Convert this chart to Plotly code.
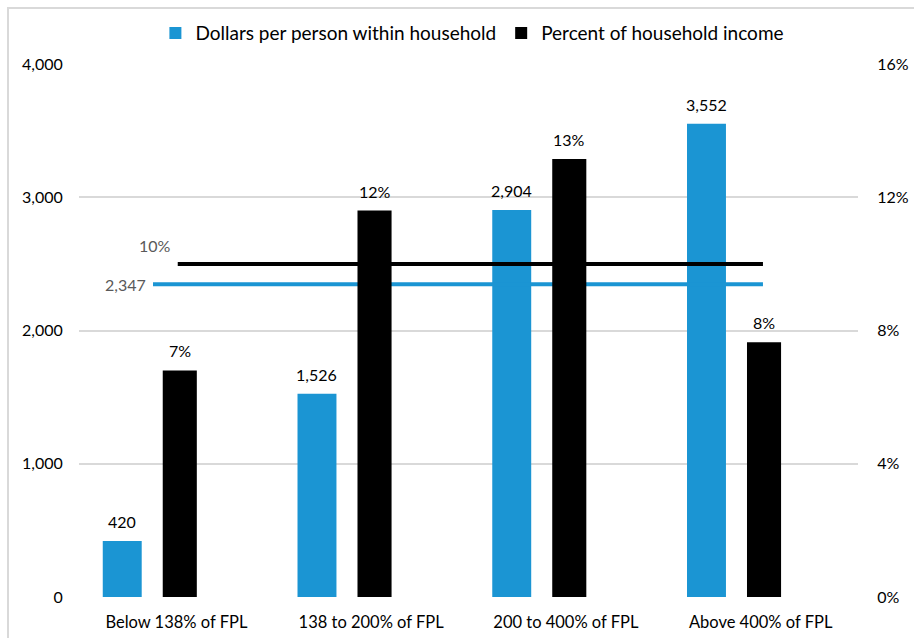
import plotly.graph_objects as go

# ---- data -------------------------------------------------------------
categories = ["Below 138% of FPL", "138 to 200% of FPL",
              "200 to 400% of FPL", "Above 400% of FPL"]
dollars_per_person = [420, 1526, 2904, 3552]          # left axis
pct_of_income = [0.068, 0.116, 0.1315, 0.0765]         # right axis
avg_dollars = 2347
avg_pct = 0.10
left_ticks = [0, 1000, 2000, 3000, 4000]
right_ticks = [0, 0.04, 0.08, 0.12, 0.16]

# ---- style ------------------------------------------------------------
BLUE = "#1b95d3"
BLACK = "#000000"
GRID = "#d9d9d9"
FONT = "Lato"
BLUE_OFFSET, BLUE_WIDTH = -0.378, 0.200
BLACK_OFFSET, BLACK_WIDTH = -0.070, 0.175
BLUE_LINE_X = (-0.12, 3.012)
BLACK_LINE_X = (0.007, 3.012)

xs = list(range(len(categories)))

fig = go.Figure()

fig.add_trace(go.Bar(
    x=xs, y=dollars_per_person, name="Dollars per person within household",
    marker=dict(color=BLUE, line=dict(width=0)),
    offset=BLUE_OFFSET, width=BLUE_WIDTH, yaxis="y",
))
fig.add_trace(go.Bar(
    x=xs, y=pct_of_income, name="Percent of household income",
    marker=dict(color=BLACK, line=dict(width=0)),
    offset=BLACK_OFFSET, width=BLACK_WIDTH, yaxis="y2",
))

# average reference lines
fig.add_trace(go.Scatter(
    x=list(BLUE_LINE_X), y=[avg_dollars, avg_dollars], mode="lines",
    line=dict(color=BLUE, width=4), showlegend=False, hoverinfo="skip",
    yaxis="y",
))
fig.add_trace(go.Scatter(
    x=list(BLACK_LINE_X), y=[avg_pct, avg_pct], mode="lines",
    line=dict(color=BLACK, width=4), showlegend=False, hoverinfo="skip",
    yaxis="y2",
))

annotations = []
for i, v in enumerate(dollars_per_person):
    annotations.append(dict(
        x=i + BLUE_OFFSET + BLUE_WIDTH / 2, y=v, xref="x", yref="y",
        text=f"{v:,}", showarrow=False, yanchor="bottom", yshift=8,
        font=dict(family=FONT, size=16, color="#000000"),
    ))
for i, v in enumerate(pct_of_income):
    annotations.append(dict(
        x=i + BLACK_OFFSET + BLACK_WIDTH / 2, y=v, xref="x", yref="y2",
        text=f"{v:.0%}", showarrow=False, yanchor="bottom", yshift=8,
        font=dict(family=FONT, size=16, color="#000000"),
    ))
annotations.append(dict(
    x=BLUE_LINE_X[0], y=avg_dollars, xref="x", yref="y",
    text=f"{avg_dollars:,}", showarrow=False, xanchor="right", yanchor="middle",
    xshift=-5, font=dict(family=FONT, size=16, color="#595959"),
))
annotations.append(dict(
    x=BLACK_LINE_X[0], y=avg_pct, xref="x", yref="y2",
    text=f"{avg_pct:.0%}", showarrow=False, xanchor="center", yanchor="middle",
    xshift=-23, yshift=18, font=dict(family=FONT, size=16, color="#595959"),
))

fig.update_layout(
    template="none",
    width=914, height=638,
    margin=dict(l=79, r=56, t=64, b=41),
    paper_bgcolor="white", plot_bgcolor="white",
    font=dict(family=FONT, size=16, color="#000000"),
    barmode="overlay",
    showlegend=True,
    legend=dict(orientation="h", x=0.505, xanchor="center", y=1.058,
                yanchor="middle", font=dict(family=FONT, size=19),
                itemwidth=30, traceorder="normal", bgcolor="rgba(0,0,0,0)"),
    xaxis=dict(
        range=[-0.5, len(categories) - 0.5], tickvals=xs, ticktext=categories,
        showgrid=False, zeroline=False, showline=False, automargin=False,
        ticks="outside", ticklen=10, tickcolor="rgba(0,0,0,0)",
        tickfont=dict(family=FONT, size=16.5, color="#000000"),
    ),
    yaxis=dict(
        range=[0, 4000], tickvals=left_ticks, tickformat=",",
        showgrid=True, gridcolor=GRID, gridwidth=2, zeroline=False,
        showline=False, ticks="outside", ticklen=12, automargin=False,
        tickcolor="rgba(0,0,0,0)",
        tickfont=dict(family=FONT, size=16, color="#000000"),
    ),
    yaxis2=dict(
        range=[0, 0.16], tickvals=right_ticks, tickformat=".0%",
        overlaying="y", side="right", showgrid=False, zeroline=False,
        showline=False, ticks="outside", ticklen=15, automargin=False,
        tickcolor="rgba(0,0,0,0)",
        tickfont=dict(family=FONT, size=16, color="#000000"),
    ),
    annotations=annotations,
    shapes=[dict(
        type="rect", xref="paper", yref="paper",
        x0=(8 - 79) / 779, x1=2, y0=-1, y1=(597 - 8) / 533,
        line=dict(color=GRID, width=2), fillcolor="rgba(0,0,0,0)",
        layer="below",
    )],
)

fig.write_html("out.html")
